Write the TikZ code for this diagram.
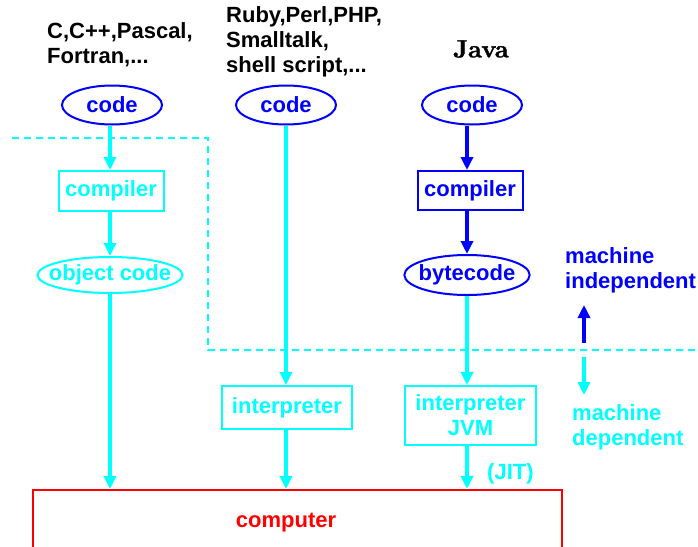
\documentclass[tikz,border=0pt]{standalone}
\usepackage{fontspec}
\setsansfont{Liberation Sans}
\newfontfamily\javafont{lmroman10-bold.otf}[FakeBold=1.2]
\usetikzlibrary{shapes.geometric,arrows.meta,calc}
\definecolor{cy}{RGB}{0,255,255}
\definecolor{bl}{RGB}{0,0,255}
\definecolor{rd}{RGB}{255,0,0}
\tikzset{
  lbl/.style={font=\fontsize{22}{25}\selectfont\sffamily\bfseries, inner sep=0pt},
  oval/.style={ellipse, draw, line width=2pt, inner sep=0pt, lbl},
  stepbox/.style={rectangle, draw, line width=2pt, inner sep=0pt, lbl},
  flow/.style={line width=4pt, -{Triangle[length=13pt,width=12pt]}},
  sep/.style={cy, line width=2pt, dash pattern=on 7pt off 5pt},
}
\begin{document}
\begin{tikzpicture}[x=1pt,y=-1pt]
\useasboundingbox (0,0) rectangle (698,546);

% language families
\node[lbl, anchor=west, align=left] (fam1) at (47,45) {C,C++,Pascal,\\Fortran,...};
\node[lbl, anchor=west, align=left] (fam2) at (226,41.5) {Ruby,Perl,PHP,\\Smalltalk,\\shell script,...};
\node[font=\javafont\fontsize{25}{27}\selectfont, inner sep=0pt] (fam3) at (481,49) {Java};

% source code
\node[oval, bl, minimum width=100pt, minimum height=39pt] (code1) at (112,105) {code};
\node[oval, bl, minimum width=100pt, minimum height=39pt] (code2) at (286,105) {code};
\node[oval, bl, minimum width=100pt, minimum height=39pt] (code3) at (472,105) {code};

% compiled path
\node[stepbox, cy, minimum width=105pt, minimum height=40pt] (comp1) at (111,191) {compiler};
\node[oval, cy, inner xsep=-10pt, minimum width=145pt, minimum height=36pt] (obj) at (110,275) {object code};

% Java path
\node[stepbox, bl, minimum width=105pt, minimum height=39pt] (comp3) at (470,190.5) {compiler};
\node[oval, bl, inner xsep=-4pt, minimum width=125pt, minimum height=40pt] (byte) at (467,275) {bytecode};

% interpreters
\node[stepbox, cy, minimum width=130pt, minimum height=43pt] (interp) at (287,407.5) {interpreter};
\node[stepbox, cy, minimum width=131pt, minimum height=59pt, align=center] (jvm) at (470.5,415.5) {interpreter\\JVM};

% machine
\node[rectangle, draw=rd, line width=2pt, minimum width=529pt, minimum height=66pt, inner sep=0pt] (computer) at (297.5,523) {};
\node[lbl, rd] (comptext) at (286,523) {computer};

% boundary between machine independent and dependent parts
\coordinate (s1) at (12,138);
\coordinate (s2) at (208,138);
\coordinate (s3) at (208,350);
\coordinate (s4) at (698,350);
\draw[sep] (s1) -- (s2) -- (s3) -- (s4);

% connectors
\draw[flow, cy] (code1.south -| obj) -- (comp1.north -| obj);
\draw[flow, cy] (comp1.south -| obj) -- (obj);
\draw[flow, cy] (obj) -- (obj |- computer.north);
\draw[flow, cy] (code2) -- (code2 |- interp.north);
\draw[flow, cy] (code2 |- interp.south) -- (code2 |- computer.north);
\draw[flow, bl] (code3.south -| byte) -- (comp3.north -| byte);
\draw[flow, bl] (comp3.south -| byte) -- (byte);
\draw[flow, cy] (byte) -- (byte |- jvm.north);
\draw[flow, cy] (byte |- jvm.south) -- (byte |- computer.north);
\node[lbl, cy, anchor=west] (jit) at (487,474) {(JIT)};

% legend
\node[lbl, bl, anchor=west, align=left] (indep) at (565,270.5) {machine\\independent};
\node[lbl, cy, anchor=west, align=left] (dep) at (572,427.5) {machine\\dependent};
\coordinate (upfrom) at (584,343);
\coordinate (upto) at (584,305);
\coordinate (downfrom) at (584,357);
\coordinate (downto) at (584,395);
\draw[flow, bl] (upfrom) -- (upto);
\draw[flow, cy] (downfrom) -- (downto);
\end{tikzpicture}
\end{document}
